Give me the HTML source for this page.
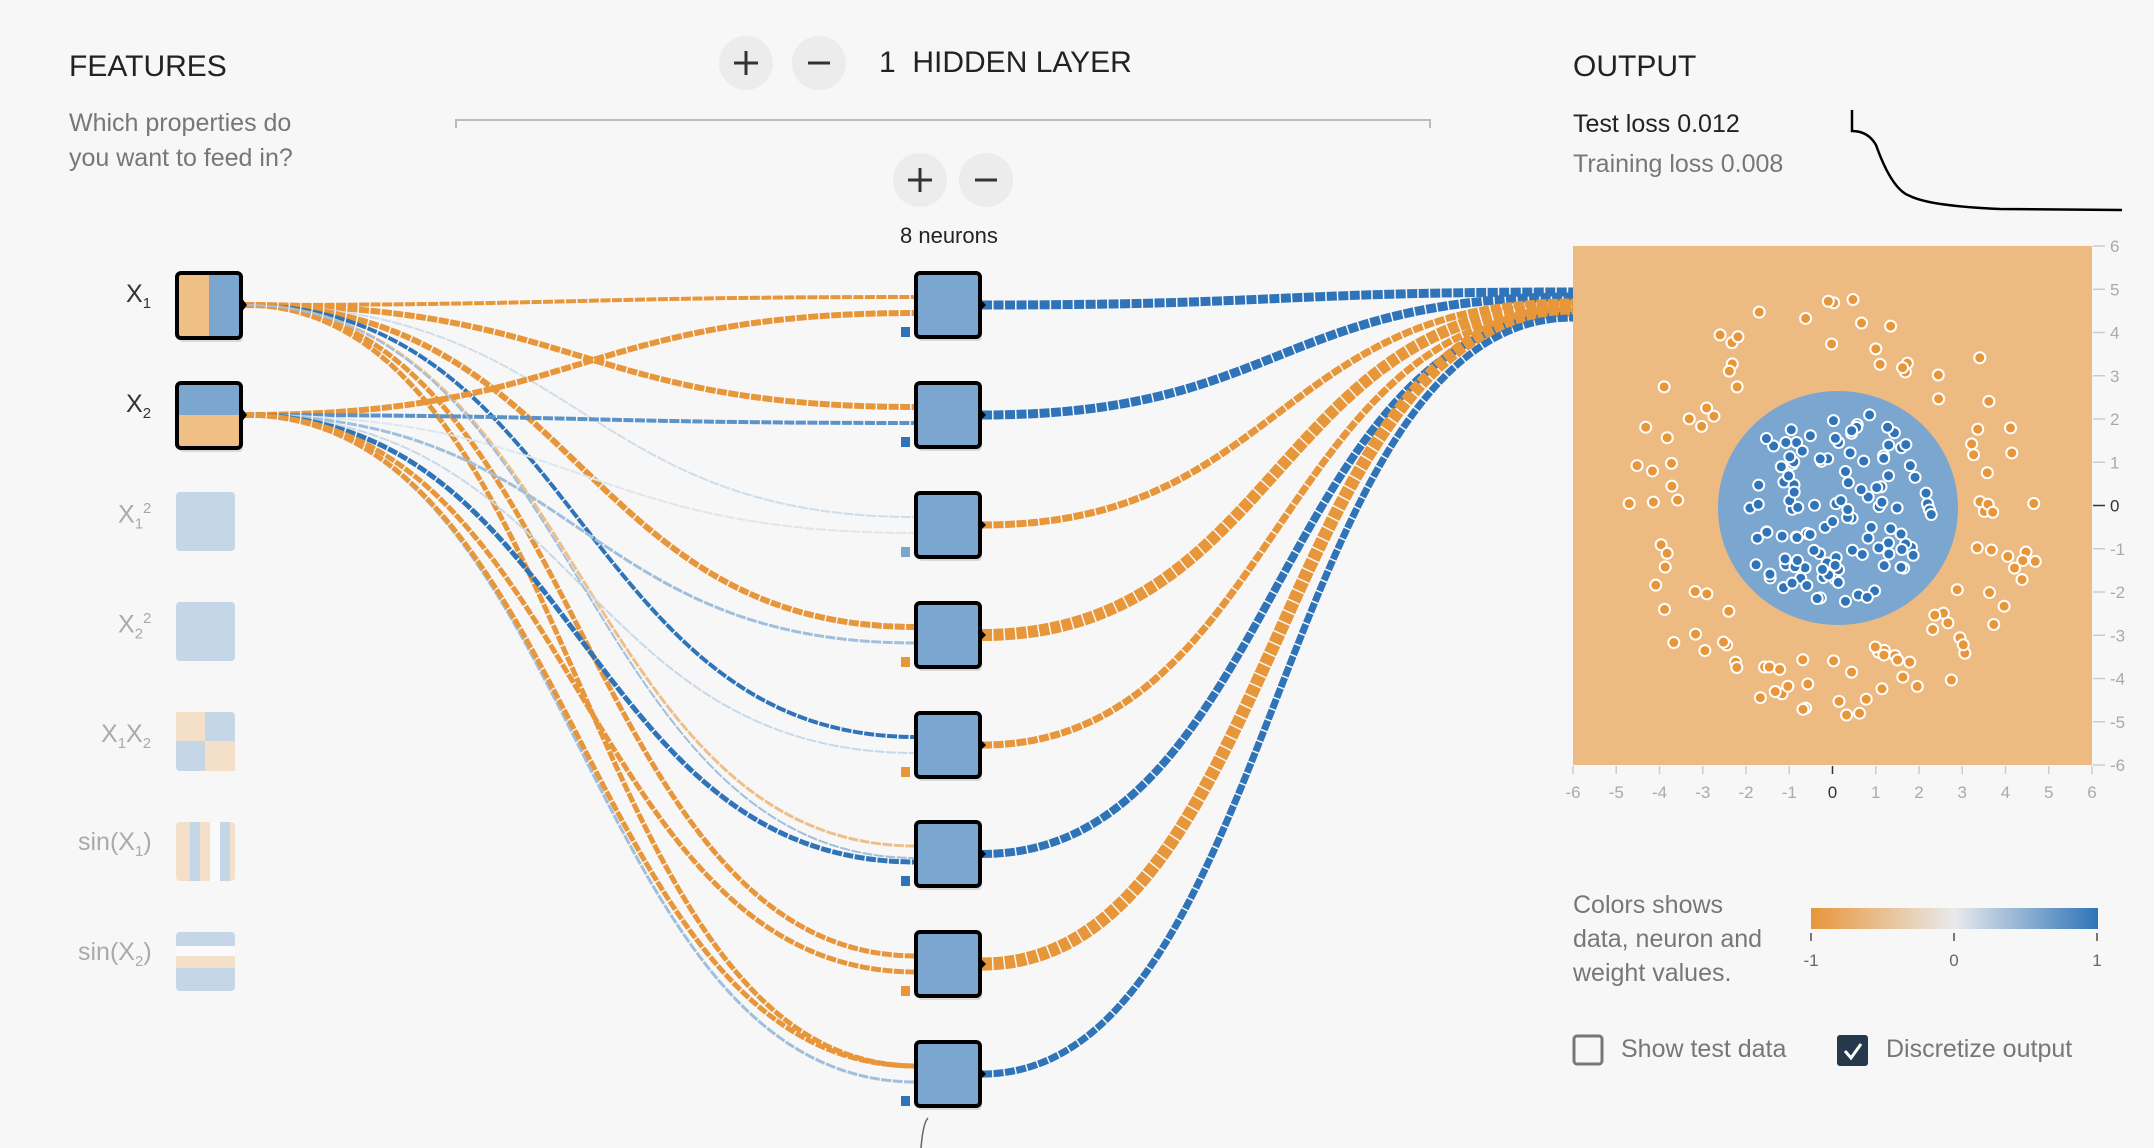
<!DOCTYPE html>
<html><head><meta charset="utf-8"><style>
body{margin:0;width:2154px;height:1148px;background:#f7f7f7;overflow:hidden;font-family:"Liberation Sans",sans-serif;position:relative}
.t{position:absolute;white-space:nowrap}
</style></head><body>
<svg id="s" width="2154" height="1148" style="position:absolute;left:0;top:0" xmlns="http://www.w3.org/2000/svg">
<defs>
<linearGradient id="lg" x1="0" x2="1"><stop offset="0" stop-color="#e8963a"/><stop offset="0.5" stop-color="#e8eaeb"/><stop offset="1" stop-color="#2f74b8"/></linearGradient>
<clipPath id="pc"><rect x="1573" y="246" width="519" height="519"/></clipPath>
</defs>
<g id="links"></g>
<g id="nodes"></g>
<circle cx="746" cy="63" r="27" fill="#ececec"/><circle cx="819" cy="63" r="27" fill="#ececec"/>
<path d="M734 63h24M746 51v24M808 63h22" stroke="#333" stroke-width="3"/>
<circle cx="920" cy="180" r="27" fill="#ececec"/><circle cx="986" cy="180" r="27" fill="#ececec"/>
<path d="M908 180h24M920 168v24M975 180h22" stroke="#333" stroke-width="3"/>
<path d="M456 128v-8h974v8" fill="none" stroke="#bbb" stroke-width="2"/>
<rect x="1573" y="246" width="519" height="519" fill="#edba82"/>
<g clip-path="url(#pc)"><ellipse cx="1838" cy="508" rx="120" ry="117" fill="#7ba6cf"/></g>
<g id="pts"></g>
<g id="axes" font-size="17" fill="#aaa"></g>
<path d="M1852 110 V131 Q1868 131 1876 145 Q1892 190 1910 196 Q1930 206 2000 209 L2122 210" fill="none" stroke="#000" stroke-width="2.5"/>
<rect x="1811" y="908" width="287" height="21" fill="url(#lg)"/>
<path d="M1811 933v8M1954 933v8M2097 933v8" stroke="#777" stroke-width="2"/>
<text x="1811" y="966" font-size="17" fill="#666" text-anchor="middle">-1</text>
<text x="1954" y="966" font-size="17" fill="#666" text-anchor="middle">0</text>
<text x="2097" y="966" font-size="17" fill="#666" text-anchor="middle">1</text>
<rect x="1574" y="1036" width="28" height="28" rx="3" fill="none" stroke="#777" stroke-width="3"/>
<rect x="1837" y="1035" width="31" height="31" rx="3" fill="#24394b"/>
<path d="M1845 1051l6 7 10-14" fill="none" stroke="#fff" stroke-width="3"/>
<path d="M928 1118 q-5 5 -7 30" fill="none" stroke="#666" stroke-width="1.5"/>
</svg>
<div class="t" style="left:69px;top:50px;font-size:30px;color:#222">FEATURES</div>
<div class="t" style="left:69px;top:106px;font-size:25px;color:#777;line-height:35px">Which properties do<br>you want to feed in?</div>
<div class="t" style="left:879px;top:46px;font-size:30px;color:#222">1&nbsp;&nbsp;HIDDEN LAYER</div>
<div class="t" style="left:900px;top:223px;font-size:22px;color:#222">8 neurons</div>
<div class="t" style="left:1573px;top:50px;font-size:30px;color:#222">OUTPUT</div>
<div class="t" style="left:1573px;top:110px;font-size:25px;color:#222">Test loss 0.012</div>
<div class="t" style="left:1573px;top:150px;font-size:25px;color:#777">Training loss 0.008</div>
<div class="t" style="left:1573px;top:888px;font-size:25px;color:#777;line-height:34px">Colors shows<br>data, neuron and<br>weight values.</div>
<div class="t" style="left:1621px;top:1035px;font-size:25px;color:#777">Show test data</div>
<div class="t" style="left:1886px;top:1035px;font-size:25px;color:#777">Discretize output</div>
<div class="t" style="left:126px;top:280px;font-size:25px;color:#333">X<sub style="font-size:15px">1</sub></div>
<div class="t" style="left:126px;top:390px;font-size:25px;color:#333">X<sub style="font-size:15px">2</sub></div>
<div class="t" style="left:118px;top:500px;font-size:25px;color:#aaa">X<sub style="font-size:15px">1</sub><sup style="font-size:15px">2</sup></div>
<div class="t" style="left:118px;top:610px;font-size:25px;color:#aaa">X<sub style="font-size:15px">2</sub><sup style="font-size:15px">2</sup></div>
<div class="t" style="left:101px;top:720px;font-size:25px;color:#aaa">X<sub style="font-size:15px">1</sub>X<sub style="font-size:15px">2</sub></div>
<div class="t" style="left:78px;top:828px;font-size:25px;color:#aaa">sin(X<sub style="font-size:15px">1</sub>)</div>
<div class="t" style="left:78px;top:938px;font-size:25px;color:#aaa">sin(X<sub style="font-size:15px">2</sub>)</div>
<script>
var NS="http://www.w3.org/2000/svg";
function el(p,t,a){var e=document.createElementNS(NS,t);for(var k in a)e.setAttribute(k,a[k]);p.appendChild(e);return e;}
var O="#e8963a",B="#2f74b8",LB="#9fbfdd",LO="#efbf8a",VL="#cfdde9";
var L=document.getElementById("links"),N=document.getElementById("nodes");
var ny=[305,415,525,635,745,854,964,1074];
var ins=[[305,[[O,4],[O,6],[VL,2],[O,6],[B,4],[LO,3],[O,5],[O,5]]],[415,[[O,6],["#5b93c9",4],["#dde6ee",2],[LB,3],["#c7d9e9",2],[B,5],[O,5],[LB,3]]]];
function link(x1,y1,x2,y2,c,w){var mx=(x1+x2)/2;el(L,"path",{d:"M"+x1+" "+y1+"C"+mx+" "+y1+" "+mx+" "+y2+" "+x2+" "+y2,fill:"none",stroke:c,"stroke-width":w,"stroke-dasharray":"10 1.5"});}
ins.forEach(function(s,si){s[1].forEach(function(l,i){link(244,s[0],916,ny[i]+(si?8:-8),l[0],l[1]);});});
link(244,305,916,858,LB,2);link(244,415,916,1066,O,5);
var outs=[[B,9],[B,9],[O,7],[O,12],[O,7],[B,8],[O,13],[B,7]];
var oy=[292,297,302,306,311,316,310,318];
outs.forEach(function(l,i){link(982,ny[i],1573,oy[i],l[0],l[1]);});
function box(x,y,w,h,fills,border){var g=el(N,"g",{});el(g,"rect",{x:x+2,y:y+4,width:w,height:h,rx:4,fill:"rgba(0,0,0,0.12)"});fills(g);if(border)el(g,"rect",{x:x,y:y,width:w,height:h,rx:4,fill:"none",stroke:"#000","stroke-width":4});}
box(177,273,64,65,function(g){el(g,"rect",{x:177,y:273,width:32,height:65,fill:"#f0bf85"});el(g,"rect",{x:209,y:273,width:32,height:65,fill:"#7ba6cf"});},1);
box(177,383,64,65,function(g){el(g,"rect",{x:177,y:383,width:64,height:32,fill:"#7ba6cf"});el(g,"rect",{x:177,y:415,width:64,height:33,fill:"#f0bf85"});},1);
el(N,"path",{d:"M241 297l6 8-6 8zM241 407l6 8-6 8z",fill:"#000"});
var fy=[492,602,712,822,932];
fy.forEach(function(y,i){var g=el(N,"g",{opacity:0.4});
 if(i<2)el(g,"rect",{x:176,y:y,width:59,height:59,rx:4,fill:"#7ba6cf"});
 else if(i==2){el(g,"rect",{x:176,y:y,width:59,height:59,rx:4,fill:"#7ba6cf"});el(g,"rect",{x:176,y:y,width:29,height:29,fill:"#f0bf85"});el(g,"rect",{x:205,y:y+29,width:30,height:30,fill:"#f0bf85"});}
 else if(i==3){el(g,"rect",{x:176,y:y,width:59,height:59,rx:4,fill:"#f0bf85"});el(g,"rect",{x:190,y:y,width:10,height:59,fill:"#7ba6cf"});el(g,"rect",{x:210,y:y,width:10,height:59,fill:"#fff"});el(g,"rect",{x:220,y:y,width:10,height:59,fill:"#7ba6cf"});}
 else{el(g,"rect",{x:176,y:y,width:59,height:59,rx:4,fill:"#7ba6cf"});el(g,"rect",{x:176,y:y+14,width:59,height:10,fill:"#fff"});el(g,"rect",{x:176,y:y+24,width:59,height:12,fill:"#f0bf85"});}
});
var bc=[B,B,"#7ba6cf",O,O,B,O,B];
ny.forEach(function(y,i){box(916,y-32,64,64,function(g){el(g,"rect",{x:916,y:y-32,width:64,height:64,fill:"#7ba6cf"});},1);
 el(N,"path",{d:"M980 "+(y-6)+"l6 6-6 6z",fill:"#000"});
 el(N,"rect",{x:901,y:y+22,width:9,height:10,fill:bc[i]});});
var A=document.getElementById("axes");
for(var v=-6;v<=6;v++){var x=1573+(v+6)*519/12,y=765-(v+6)*519/12;
 el(A,"path",{d:"M"+x+" 766v8",stroke:v==0?"#333":"#ccc","stroke-width":1.5});
 var t=el(A,"text",{x:x,y:798,"text-anchor":"middle",fill:v==0?"#333":"#aaa"});t.textContent=v;
 el(A,"path",{d:"M2093 "+y+"h12",stroke:v==0?"#333":"#ccc","stroke-width":1.5});
 t=el(A,"text",{x:2110,y:y+6,fill:v==0?"#333":"#aaa"});t.textContent=v;}
var P=document.getElementById("pts");var seed=7;function r(){seed=(seed*16807)%2147483647;return seed/2147483647;}
function pt(ux,uy,c){el(P,"circle",{cx:1832.5+ux*43.25,cy:505.5-uy*43.25,r:5.5,fill:c,stroke:"#fff","stroke-width":2});}
for(var i=0;i<120;i++){var a=r()*6.283,d=Math.sqrt(r())*2.3;pt(Math.cos(a)*d,Math.sin(a)*d,B);}
for(var i=0;i<110;i++){var a=r()*6.283,d=3.4+r()*1.5;pt(Math.cos(a)*d,Math.sin(a)*d,O);}
</script>
</body></html>
